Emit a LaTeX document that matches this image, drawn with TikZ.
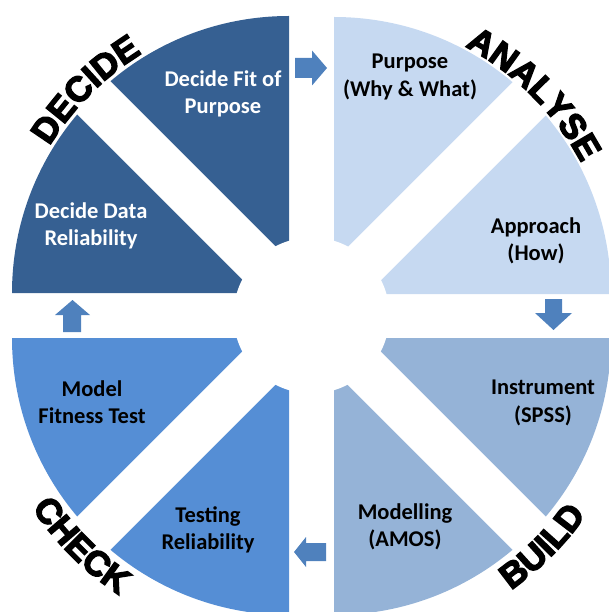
\documentclass[tikz,border=0pt]{standalone}
\usepackage{fontspec}
\setmainfont{Carlito}
\newfontfamily\blk{Liberation Sans}[BoldFeatures={FakeBold=4}]
\usetikzlibrary{decorations.text}
\definecolor{decideC}{HTML}{366092}
\definecolor{analyseC}{HTML}{C6D9F1}
\definecolor{buildC}{HTML}{95B3D7}
\definecolor{checkC}{HTML}{558ED5}
\definecolor{arrowC}{HTML}{4F81BD}
\newcommand\biglab{\blk\bfseries\fontsize{35}{40}\selectfont}
\begin{document}
\begin{tikzpicture}[x=1pt,y=1pt,
  lbl/.style={font=\bfseries\fontsize{22.5}{27.5}\selectfont, align=center, inner sep=0pt},
  white band/.style={white, line width=47pt},
  blockarrow/.style={fill=arrowC},
  ring label/.style={decorate, decoration={text along path, text align=center, text={|\biglab|#1}}}
]
\path[use as bounding box] (0,0) rectangle (609,-612);
\coordinate (O) at (311.5,-315.5);
\coordinate (C1) at (289,-293);
\coordinate (C2) at (334,-294);
\coordinate (C3) at (334,-338);
\coordinate (C4) at (289,-338);
% quadrants
\fill[decideC] (C1) -- ++(-277,0) arc[start angle=180,end angle=90,radius=277] -- cycle;
\fill[analyseC] (C2) -- ++(0,277) arc[start angle=90,end angle=0,radius=277] -- cycle;
\fill[buildC] (C3) -- ++(277,0) arc[start angle=0,end angle=-90,radius=277] -- cycle;
\fill[checkC] (C4) -- ++(0,-277) arc[start angle=-90,end angle=-180,radius=277] -- cycle;
% diagonal gaps and centre hole
\draw[white band] (C1) -- ++(135:300);
\draw[white band] (C2) -- ++(45:300);
\draw[white band] (C3) -- ++(-45:300);
\draw[white band] (C4) -- ++(-135:300);
\fill[white] (O) circle[radius=78];
% sector texts
\node[lbl, text=white] (fit) at (223,-94) {Decide Fit of\\Purpose};
\node[lbl, text=white] (rel) at (91,-226) {Decide Data\\Reliability};
\node[lbl] (purpose) at (410,-77) {Purpose\\(Why \& What)};
\node[lbl] (approach) at (536,-241) {Approach\\(How)};
\node[lbl] (instr) at (543,-403) {Instrument\\(SPSS)};
\node[lbl] (model) at (405,-527) {Modelling\\(AMOS)};
\node[lbl] (fitness) at (92,-402) {Model\\Fitness Test};
\node[lbl] (testing) at (208,-530) {Testing\\Reliability};
% block arrows
\fill[blockarrow] (295,-58) -- (312,-58) -- (312,-50.5) -- (327,-68) -- (312,-85.5) -- (312,-78) -- (295,-78) -- cycle;
\fill[blockarrow] (545,-299) -- (562,-299) -- (562,-313) -- (572,-313) -- (553.5,-330) -- (535,-313) -- (545,-313) -- cycle;
\fill[blockarrow] (326,-543) -- (306,-543) -- (306,-537) -- (294,-552) -- (306,-567) -- (306,-561) -- (326,-561) -- cycle;
\fill[blockarrow] (63,-332) -- (63,-315) -- (55,-315) -- (72.5,-300) -- (90,-315) -- (81,-315) -- (81,-332) -- cycle;
% ring labels
\path[ring label=DECIDE] (C1) ++(170:281) arc[start angle=170,end angle=100,radius=281];
\path[ring label=ANALYSE] (C2) ++(80:280) arc[start angle=80,end angle=10,radius=280];
\path[ring label=BUILD] (C3) ++(-80:308) arc[start angle=-80,end angle=-10,radius=308];
\path[ring label=CHECK] (C4) ++(-170:308) arc[start angle=-170,end angle=-100,radius=308];
\end{tikzpicture}
\end{document}
